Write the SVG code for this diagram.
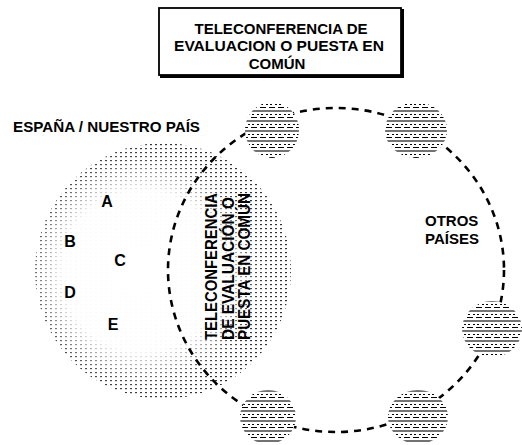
<svg xmlns="http://www.w3.org/2000/svg" width="522" height="445" viewBox="0 0 522 445">
<style>
.t{font-family:"Liberation Sans",Arial,sans-serif;font-weight:bold;fill:#000}
.f15{font-size:15px}
.f16{font-size:16px}
.f17{font-size:17px}
.globe-base{fill:#fff}
.globe-hatch{fill:url(#hatch)}
.loop{fill:none;stroke:#000;stroke-width:2.6;stroke-dasharray:7 6}
</style>
<defs>
<pattern id="dots" width="5" height="4" patternUnits="userSpaceOnUse">
<rect x="0" y="0" width="2" height="1.2" fill="#333"/>
</pattern>
<pattern id="hatch" width="9" height="10" patternUnits="userSpaceOnUse">
<line x1="0" y1="1" x2="9" y2="1" stroke="#000" stroke-width="1.1"/>
<line x1="0" y1="4.5" x2="9" y2="4.5" stroke="#000" stroke-width="1" stroke-dasharray="2 3"/>
<line x1="0" y1="7.5" x2="9" y2="7.5" stroke="#000" stroke-width="1" stroke-dasharray="5 3"/>
</pattern>
<radialGradient id="fade" cx="0.42" cy="0.5" r="0.5">
<stop offset="0" stop-color="#fff" stop-opacity="1"/>
<stop offset="0.62" stop-color="#fff" stop-opacity="0.97"/>
<stop offset="0.86" stop-color="#fff" stop-opacity="0.15"/>
<stop offset="1" stop-color="#fff" stop-opacity="0"/>
</radialGradient>
</defs>
<rect width="522" height="445" fill="#fff"/>

<g id="title">
<rect x="159" y="8" width="242" height="67" fill="#fff" stroke="#000" stroke-width="1.8"/>
<line x1="160" y1="76.5" x2="403" y2="76.5" stroke="#000" stroke-width="3"/>
<line x1="402.5" y1="9" x2="402.5" y2="78" stroke="#000" stroke-width="3"/>
<text class="t f15" x="281" y="34" text-anchor="middle" textLength="173" lengthAdjust="spacingAndGlyphs">TELECONFERENCIA DE</text>
<text class="t f15" x="279" y="51" text-anchor="middle" textLength="210" lengthAdjust="spacingAndGlyphs">EVALUACION O PUESTA EN</text>
<text class="t f15" x="277" y="69" text-anchor="middle">COMÚN</text>
</g>

<g id="spain">
<circle cx="163" cy="271" r="128" fill="url(#dots)"/>
<circle cx="163" cy="271" r="129" fill="url(#fade)"/>
<text class="t f15" x="13" y="132" textLength="187" lengthAdjust="spacingAndGlyphs">ESPAÑA / NUESTRO PAÍS</text>
</g>

<g id="regions">
<text class="t f16" x="107" y="207" text-anchor="middle">A</text>
<text class="t f16" x="70" y="247" text-anchor="middle">B</text>
<text class="t f16" x="120" y="266" text-anchor="middle">C</text>
<text class="t f16" x="70" y="298" text-anchor="middle">D</text>
<text class="t f16" x="113" y="330" text-anchor="middle">E</text>
</g>

<g id="connectors">
<ellipse class="loop" cx="336" cy="270" rx="168" ry="162"/>
</g>

<g id="center-label">
<text class="t f17" transform="translate(217,340) rotate(-90)" textLength="147" lengthAdjust="spacingAndGlyphs">TELECONFERENCIA</text>
<text class="t f17" transform="translate(234,340) rotate(-90)" textLength="143" lengthAdjust="spacingAndGlyphs">DE EVALUACIÓN O</text>
<text class="t f17" transform="translate(250,340) rotate(-90)" textLength="147" lengthAdjust="spacingAndGlyphs">PUESTA EN COMÚN</text>
</g>

<g id="otros">
<text class="t f15" x="425" y="226">OTROS</text>
<text class="t f15" x="425" y="244">PAÍSES</text>
</g>

<g id="globe1"><ellipse class="globe-base" cx="272" cy="130" rx="27" ry="28"/><ellipse class="globe-hatch" cx="272" cy="130" rx="27" ry="28"/></g>
<g id="globe2"><ellipse class="globe-base" cx="416" cy="130" rx="31" ry="28"/><ellipse class="globe-hatch" cx="416" cy="130" rx="31" ry="28"/></g>
<g id="globe3"><ellipse class="globe-base" cx="492" cy="329" rx="30" ry="28"/><ellipse class="globe-hatch" cx="492" cy="329" rx="30" ry="28"/></g>
<g id="globe4"><ellipse class="globe-base" cx="268" cy="417" rx="28" ry="27"/><ellipse class="globe-hatch" cx="268" cy="417" rx="28" ry="27"/></g>
<g id="globe5"><ellipse class="globe-base" cx="418" cy="417" rx="30" ry="27"/><ellipse class="globe-hatch" cx="418" cy="417" rx="30" ry="27"/></g>
</svg>
